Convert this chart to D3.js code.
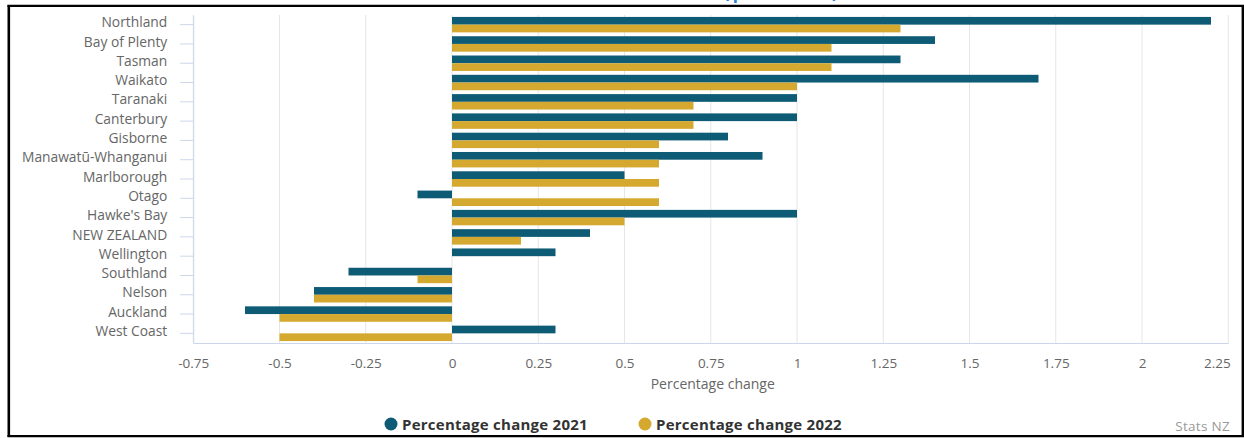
<!DOCTYPE html>
<html>
<head>
<meta charset="utf-8">
<script src="https://cdn.jsdelivr.net/npm/d3@7"></script>
<style>
  html, body { margin: 0; padding: 0; background: #fff; }
  svg { display: block; font-family: "Open Sans", "Lato", sans-serif; }
</style>
</head>
<body>
<svg id="chart" width="1244" height="438"></svg>
<script>
// Regional population change, two years side by side
const regions = [
  "Northland", "Bay of Plenty", "Tasman", "Waikato", "Taranaki", "Canterbury",
  "Gisborne", "Manawatū-Whanganui", "Marlborough", "Otago", "Hawke's Bay",
  "NEW ZEALAND", "Wellington", "Southland", "Nelson", "Auckland", "West Coast"
];
const change2021 = [2.2, 1.4, 1.3, 1.7, 1.0, 1.0, 0.8, 0.9, 0.5, -0.1, 1.0, 0.4, 0.3, -0.3, -0.4, -0.6, 0.3];
const change2022 = [1.3, 1.1, 1.1, 1.0, 0.7, 0.7, 0.6, 0.6, 0.6, 0.6, 0.5, 0.2, 0, -0.1, -0.4, -0.5, -0.5];
const seriesNames = ["Percentage change 2021", "Percentage change 2022"];
const xTicks = [-0.75, -0.5, -0.25, 0, 0.25, 0.5, 0.75, 1, 1.25, 1.5, 1.75, 2, 2.25];
const axisTitle = "Percentage change";
const creditText = "Stats NZ";
const titleText = "(percent)";

const colors = ["#0e5b76", "#d5a92f"];

const svg = d3.select("#chart");
const plot = { left: 193.25, right: 1228.25, top: 15, bottom: 343 };

// Frame around the chart
const frame = svg.append("g").attr("stroke", "#000").attr("fill", "none");
frame.append("line").attr("x1", 7.5).attr("x2", 1244).attr("y1", 5.8).attr("y2", 5.8).attr("stroke-width", 2.2);
frame.append("line").attr("x1", 8.8).attr("x2", 8.8).attr("y1", 5).attr("y2", 437).attr("stroke-width", 2.6);
frame.append("line").attr("x1", 7.5).attr("x2", 1244).attr("y1", 436.2).attr("y2", 436.2).attr("stroke-width", 2.2);
frame.append("line").attr("x1", 1242.8).attr("x2", 1242.8).attr("y1", 5).attr("y2", 437).attr("stroke-width", 2.4);

// Title sits above the frame, mostly outside the visible area
svg.append("text")
  .attr("x", 782).attr("y", -2)
  .attr("text-anchor", "middle")
  .attr("fill", "#2a7fd0")
  .attr("font-size", 22)
  .attr("font-weight", 600)
  .attr("letter-spacing", 2.5)
  .text(titleText);

const x = d3.scaleLinear().domain([-0.75, 2.25]).range([plot.left, plot.right]);
const y = d3.scaleBand().domain(regions).range([plot.top, plot.bottom]);
const sub = d3.scaleBand().domain([0, 1]).range([0, y.bandwidth()])
  .paddingInner(0).paddingOuter(0.25);

// Vertical grid lines
svg.append("g")
  .selectAll("line")
  .data(xTicks)
  .join("line")
  .attr("x1", d => x(d)).attr("x2", d => x(d))
  .attr("y1", plot.top).attr("y2", plot.bottom)
  .attr("stroke", "#e6e6e6")
  .attr("stroke-width", 1);

// Bars
const rows = regions.map((r, i) => ({ region: r, values: [change2021[i], change2022[i]] }));
const groups = svg.append("g")
  .selectAll("g")
  .data(rows)
  .join("g")
  .attr("transform", d => `translate(0,${y(d.region)})`);

groups.selectAll("rect")
  .data(d => d.values.map((v, k) => ({ v, k })))
  .join("rect")
  .attr("x", d => x(Math.min(0, d.v)))
  .attr("width", d => Math.abs(x(d.v) - x(0)))
  .attr("y", d => sub(d.k))
  .attr("height", sub.bandwidth())
  .attr("fill", d => colors[d.k]);

// Category axis
const yAxis = svg.append("g")
  .attr("transform", `translate(${plot.left},0)`)
  .call(d3.axisLeft(y).tickSize(13).tickSizeOuter(0).tickPadding(13));
yAxis.select(".domain").attr("stroke", "#ccd6eb");
yAxis.selectAll(".tick line").attr("stroke", "#ccd6eb");
yAxis.selectAll(".tick text")
  .attr("fill", "#666")
  .attr("font-size", 13.8)
  .attr("y", -1.8)
  .attr("font-family", "Open Sans, sans-serif");

// Value axis
const xAxis = svg.append("g")
  .attr("transform", `translate(0,${plot.bottom})`)
  .call(d3.axisBottom(x).tickValues(xTicks).tickSize(0).tickPadding(15)
    .tickFormat(d => String(d)));
xAxis.select(".domain").attr("stroke", "#ccd6eb");
xAxis.selectAll(".tick text")
  .attr("fill", "#666")
  .attr("font-size", 13.5)
  .attr("font-family", "Open Sans, sans-serif");
// keep the last label inside the plot width
xAxis.selectAll(".tick text")
  .filter(d => d === xTicks[xTicks.length - 1])
  .attr("text-anchor", "end")
  .attr("dx", 2);

svg.append("text")
  .attr("x", (plot.left + plot.right) / 2 + 2)
  .attr("y", 389)
  .attr("text-anchor", "middle")
  .attr("fill", "#666")
  .attr("font-size", 14)
  .text(axisTitle);

// Legend
const legendX = [391, 645];
const legend = svg.append("g")
  .selectAll("g")
  .data(seriesNames)
  .join("g")
  .attr("transform", (d, i) => `translate(${legendX[i]},424)`);
legend.append("circle").attr("r", 6.5).attr("fill", (d, i) => colors[i]);
legend.append("text")
  .attr("x", 11).attr("y", 5.5)
  .attr("fill", "#333")
  .attr("font-size", 15)
  .attr("font-weight", 700)
  .attr("letter-spacing", 0.25)
  .text(d => d);

// Credit
svg.append("text")
  .attr("x", 1230).attr("y", 431)
  .attr("text-anchor", "end")
  .attr("fill", "#999")
  .attr("font-size", 13.5)
  .attr("letter-spacing", 0.3)
  .text(creditText);
</script>
</body>
</html>
